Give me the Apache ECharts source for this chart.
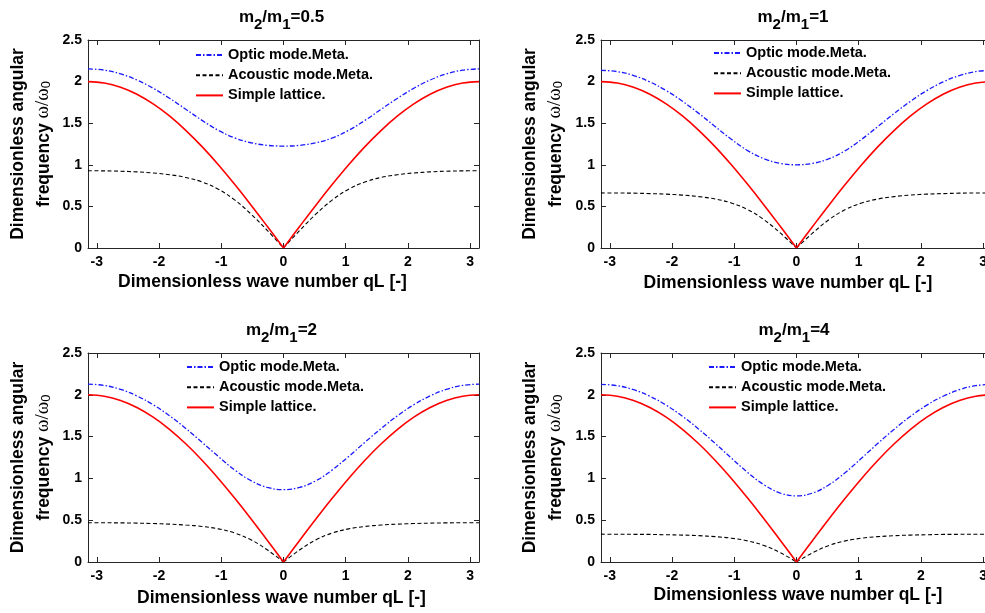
<!DOCTYPE html>
<html><head><meta charset="utf-8">
<script src="https://cdn.jsdelivr.net/npm/echarts@6/dist/echarts.min.js"></script>
<style>html,body{margin:0;padding:0;background:#fff}#c{width:985px;height:613px}</style>
</head><body><div id="c"></div>
<script>
// ---------- data ----------
const qL = [-3.1416,-2.8798,-2.6180,-2.3562,-2.0944,-1.8326,-1.5708,-1.3090,-1.0472,-0.7854,-0.5236,-0.2618,0,0.2618,0.5236,0.7854,1.0472,1.3090,1.5708,1.8326,2.0944,2.3562,2.6180,2.8798,3.1416];
const simpleLattice = [2.000,1.983,1.932,1.848,1.732,1.587,1.414,1.218,1.000,0.765,0.518,0.261,0,0.261,0.518,0.765,1.000,1.218,1.414,1.587,1.732,1.848,1.932,1.983,2.000];
const optic05 = [2.153,2.138,2.093,2.019,1.920,1.800,1.668,1.534,1.414,1.323,1.265,1.234,1.225,1.234,1.265,1.323,1.414,1.534,1.668,1.800,1.920,2.019,2.093,2.138,2.153];
const acoustic05 = [0.929,0.927,0.923,0.915,0.902,0.881,0.848,0.794,0.707,0.578,0.409,0.212,0,0.212,0.409,0.578,0.707,0.794,0.848,0.881,0.902,0.915,0.923,0.927,0.929];
const optic1 = [2.136,2.120,2.073,1.996,1.892,1.764,1.618,1.461,1.307,1.171,1.073,1.017,1.000,1.017,1.073,1.171,1.307,1.461,1.618,1.764,1.892,1.996,2.073,2.120,2.136];
const acoustic1 = [0.662,0.661,0.659,0.654,0.647,0.636,0.618,0.589,0.541,0.462,0.341,0.181,0,0.181,0.341,0.462,0.541,0.589,0.618,0.636,0.647,0.654,0.659,0.661,0.662];
const optic2 = [2.128,2.112,2.065,1.987,1.881,1.750,1.598,1.432,1.262,1.102,0.973,0.893,0.866,0.893,0.973,1.102,1.262,1.432,1.598,1.750,1.881,1.987,2.065,2.112,2.128];
const acoustic2 = [0.470,0.469,0.468,0.465,0.460,0.453,0.442,0.425,0.396,0.347,0.266,0.146,0,0.146,0.266,0.347,0.396,0.425,0.442,0.453,0.460,0.465,0.468,0.469,0.470];
const optic4 = [2.125,2.109,2.061,1.983,1.876,1.743,1.589,1.420,1.243,1.071,0.924,0.825,0.791,0.825,0.924,1.071,1.243,1.420,1.589,1.743,1.876,1.983,2.061,2.109,2.125];
const acoustic4 = [0.333,0.332,0.331,0.330,0.326,0.322,0.315,0.303,0.285,0.253,0.198,0.112,0,0.112,0.198,0.253,0.285,0.303,0.315,0.322,0.326,0.330,0.331,0.332,0.333];
const xTicks = [-3,-2,-1,0,1,2,3];
const massRatios = ['0.5','1','2','4'];
const seriesNames = ['Optic mode.Meta.','Acoustic mode.Meta.','Simple lattice.'];
const xName = 'Dimensionless wave number qL [-]';
const yNameLine1 = 'Dimensionless angular';
const yNameLine2 = 'frequency ';
const opticSets = [optic05, optic1, optic2, optic4];
const acousticSets = [acoustic05, acoustic1, acoustic2, acoustic4];

// ---------- layout ----------
const FONT = '"Liberation Sans", Arial, Helvetica, sans-serif';
const AX = '#262626';
const panels = [
  {left:88,  top:40,  width:391, height:208, titleX:281.5, titleTop:9,   legLeft:195, legTop:47.5, xShift:-21, xGap:25, yGap:35},
  {left:601, top:40,  width:391, height:208, titleX:793,   titleTop:9,   legLeft:713, legTop:45.5, xShift:-8.5, xGap:26, yGap:36},
  {left:88,  top:353, width:391, height:209, titleX:281.5, titleTop:322, legLeft:186, legTop:359.5, xShift:-2, xGap:27, yGap:35},
  {left:601, top:353, width:391, height:209, titleX:794,   titleTop:322, legLeft:708, legTop:359.5, xShift:1.5, xGap:24, yGap:36}
];

const grid = [], xAxis = [], yAxis = [], series = [], title = [], legend = [];
const tickLbl = {fontFamily: FONT, fontWeight: 'bold', fontSize: 14, color: '#000'};
const half = (arr, side) => side === 0 ? arr.slice(0, 13) : arr.slice(12);

panels.forEach((p, i) => {
  grid.push({left: p.left, top: p.top, width: p.width, height: p.height, containLabel: false, outerBoundsMode: 'none'});
  const xPad = p.xShift < 0 ? [0, -2 * p.xShift, 0, 0] : [0, 0, 0, 2 * p.xShift];
  xAxis.push({
    type: 'value', gridIndex: i, position: 'bottom', min: -Math.PI, max: Math.PI,
    name: xName, nameLocation: 'middle', nameGap: p.xGap, nameMoveOverlap: false,
    nameTextStyle: {fontFamily: FONT, fontWeight: 'bold', fontSize: 17.5, color: '#000', padding: xPad},
    axisLine: {show: true, onZero: false, lineStyle: {color: AX, width: 1}},
    axisTick: {show: true, inside: true, length: 5, customValues: xTicks, lineStyle: {color: AX}},
    axisLabel: Object.assign({show: true, margin: 7, customValues: xTicks}, tickLbl),
    splitLine: {show: false}
  });
  xAxis.push({
    type: 'value', gridIndex: i, position: 'top', min: -Math.PI, max: Math.PI,
    axisLine: {show: true, onZero: false, lineStyle: {color: AX, width: 1}},
    axisTick: {show: true, inside: true, length: 5, customValues: xTicks, lineStyle: {color: AX}},
    axisLabel: {show: false}, splitLine: {show: false}
  });
  yAxis.push({
    type: 'value', gridIndex: i, position: 'left', min: 0, max: 2.5, interval: 0.5,
    name: '{a|' + yNameLine1 + '}\n{a|' + yNameLine2 + '}{w|ω/ω}{s|0}',
    nameLocation: 'middle', nameRotate: 90, nameGap: p.yGap, nameMoveOverlap: false,
    nameTextStyle: {
      color: '#000',
      rich: {
        a: {fontFamily: FONT, fontWeight: 'bold', fontSize: 17.5, lineHeight: 26, verticalAlign: 'bottom', color: '#000'},
        w: {fontFamily: '"Liberation Serif", "DejaVu Serif", serif', fontWeight: 'normal', fontSize: 19, lineHeight: 26, verticalAlign: 'bottom', color: '#000'},
        s: {fontFamily: FONT, fontWeight: 'normal', fontSize: 13, lineHeight: 10, verticalAlign: 'bottom', color: '#000'}
      }
    },
    axisLine: {show: true, onZero: false, lineStyle: {color: AX, width: 1}},
    axisTick: {show: true, inside: true, length: 5, lineStyle: {color: AX}},
    axisLabel: Object.assign({show: true, margin: 6}, tickLbl),
    splitLine: {show: false}
  });
  yAxis.push({
    type: 'value', gridIndex: i, position: 'right', min: 0, max: 2.5, interval: 0.5,
    axisLine: {show: true, onZero: false, lineStyle: {color: AX, width: 1}},
    axisTick: {show: true, inside: true, length: 5, lineStyle: {color: AX}},
    axisLabel: {show: false}, splitLine: {show: false}
  });
  title.push({
    text: '{m|m}{s|2}{m|/m}{s|1}{m|=' + massRatios[i] + '}',
    left: p.titleX, top: p.titleTop, textAlign: 'center', padding: 0,
    textStyle: {
      rich: {
        m: {fontFamily: FONT, fontWeight: 'bold', fontSize: 17, lineHeight: 20, verticalAlign: 'top', color: '#000'},
        s: {fontFamily: FONT, fontWeight: 'bold', fontSize: 15, lineHeight: 15, verticalAlign: 'top', color: '#000', padding: [8, 0, 0, 0]}
      }
    }
  });
  legend.push({
    orient: 'vertical', left: p.legLeft, top: p.legTop, padding: 0,
    itemWidth: 27, itemHeight: 14, itemGap: 5.2,
    data: seriesNames, selectedMode: false,
    itemStyle: {opacity: 0},
    textStyle: {fontFamily: FONT, fontWeight: 'bold', fontSize: 14.5, color: '#000'}
  });
  const xi = 2 * i, yi = 2 * i;
  series.push({
    name: seriesNames[0], type: 'line', xAxisIndex: xi, yAxisIndex: yi, symbol: 'none', clip: true, smooth: 0.4,
    data: qL.map((q, k) => [q, opticSets[i][k]]),
    lineStyle: {color: '#1a1aff', width: 1.3, type: [5, 2, 1.5, 2]}, itemStyle: {color: '#1a1aff', opacity: 0}
  });
  [0, 1].forEach(side => {
    const qs = half(qL, side), vs = half(acousticSets[i], side);
    series.push({
      name: seriesNames[1], type: 'line', xAxisIndex: xi, yAxisIndex: yi, symbol: 'none', clip: true, smooth: 0.4,
      data: qs.map((q, k) => [q, vs[k]]),
      lineStyle: {color: '#000', width: 1.1, type: [4, 2.5]}, itemStyle: {color: '#000', opacity: 0}
    });
  });
  [0, 1].forEach(side => {
    const qs = half(qL, side), vs = half(simpleLattice, side);
    series.push({
      name: seriesNames[2], type: 'line', xAxisIndex: xi, yAxisIndex: yi, symbol: 'none', clip: true, smooth: 0.4,
      data: qs.map((q, k) => [q, vs[k]]),
      lineStyle: {color: '#ff0000', width: 1.6, type: 'solid'}, itemStyle: {color: '#ff0000', opacity: 0}
    });
  });
});

const chart = echarts.init(document.getElementById('c'), null, {renderer: 'canvas'});
chart.setOption({
  animation: false, backgroundColor: '#fff',
  title, legend, grid, xAxis, yAxis, series
});
</script>
</body></html>
